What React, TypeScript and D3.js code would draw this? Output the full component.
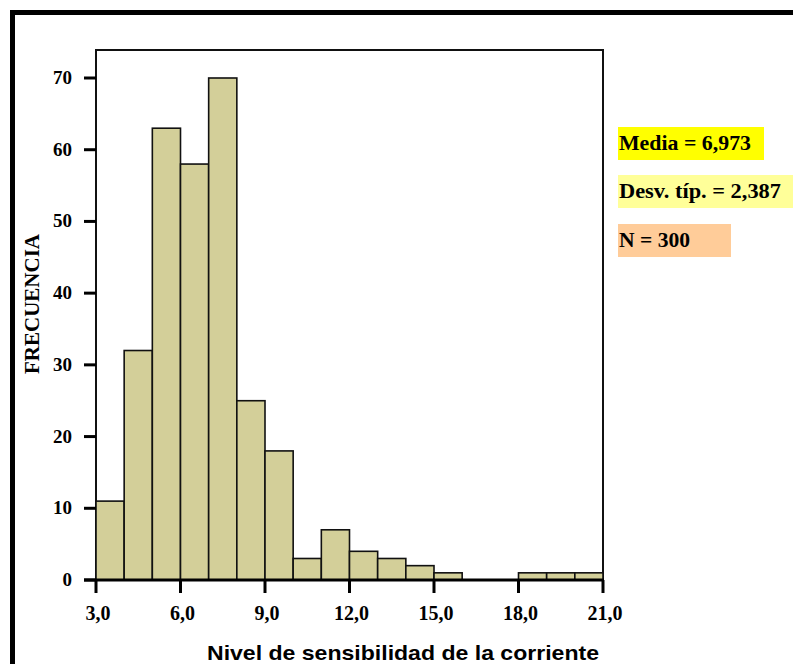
import React from "react";
import * as d3 from "d3";

// histogram bins (lower edge) and counts
const binStarts = [3, 4, 5, 6, 7, 8, 9, 10, 11, 12, 13, 14, 15, 16, 17, 18, 19, 20];
const counts = [11, 32, 63, 58, 70, 25, 18, 3, 7, 4, 3, 2, 1, 0, 0, 1, 1, 1];
const xTicks = [3, 6, 9, 12, 15, 18, 21];
const yTicks = [0, 10, 20, 30, 40, 50, 60, 70];
const statLabels = ["Media = 6,973", "Desv. típ. = 2,387", "N = 300"];
const statColors = ["#ffff00", "#ffff99", "#ffcc99"];

const width = 793;
const height = 664;
const serif = "'Liberation Serif', 'Times New Roman', serif";

export default function App() {
  const x = d3.scaleLinear().domain([3, 21]).range([96, 603]);
  const y = d3.scaleLinear().domain([0, 70]).range([580, 78]);
  const fmt = (v: number) => v.toFixed(1).replace(".", ",");

  const boxes = [
    { y: 127, w: 146, tl: 132 },
    { y: 175, w: 190, tl: 162 },
    { y: 224, w: 113, tl: 71 },
  ];

  return (
    <svg width={width} height={height} style={{ position: "absolute", left: 0, top: 0, background: "#fff" }}>
      {/* outer frame */}
      <rect x={12.5} y={12.5} width={900} height={900} fill="none" stroke="#000" strokeWidth={5} />

      {/* plot frame */}
      <rect x={96} y={50} width={507} height={530} fill="none" stroke="#111" strokeWidth={2} />

      {/* bars */}
      {binStarts.map((b, i) =>
        counts[i] > 0 ? (
          <rect
            key={i}
            x={x(b)}
            y={y(counts[i])}
            width={x(b + 1) - x(b)}
            height={y(0) - y(counts[i])}
            fill="#d3cf99"
            stroke="#111"
            strokeWidth={1.6}
          />
        ) : null
      )}

      {/* baseline */}
      <line x1={84} x2={604} y1={y(0)} y2={y(0)} stroke="#000" strokeWidth={3} />

      {/* y axis ticks */}
      {yTicks.map((t) => (
        <g key={t}>
          <line x1={84} x2={96} y1={y(t)} y2={y(t)} stroke="#000" strokeWidth={3} />
          <text
            x={72}
            y={y(t) + 6}
            textAnchor="end"
            fontFamily={serif}
            fontWeight="bold"
            fontSize={19}
          >
            {t}
          </text>
        </g>
      ))}

      {/* x axis ticks */}
      {xTicks.map((t) => (
        <g key={t}>
          <line x1={x(t)} x2={x(t)} y1={580} y2={593} stroke="#000" strokeWidth={3} />
          <text
            x={x(t) + 2}
            y={620}
            textAnchor="middle"
            fontFamily={serif}
            fontWeight="bold"
            fontSize={20}
          >
            {fmt(t)}
          </text>
        </g>
      ))}

      {/* axis titles */}
      <text
        transform="translate(39,304) rotate(-90)"
        textAnchor="middle"
        fontFamily={serif}
        fontWeight="bold"
        fontSize={21}
      >
        FRECUENCIA
      </text>
      <text
        x={207}
        y={660}
        fontFamily="'Liberation Sans', Arial, sans-serif"
        fontWeight="bold"
        fontSize={21}
        textLength={392}
        lengthAdjust="spacingAndGlyphs"
      >
        Nivel de sensibilidad de la corriente
      </text>

      {/* stats legend */}
      {statLabels.map((s, i) => (
        <g key={s}>
          <rect x={618} y={boxes[i].y} width={boxes[i].w} height={33} fill={statColors[i]} />
          <text
            x={619}
            y={boxes[i].y + 23}
            fontFamily={serif}
            fontWeight="bold"
            fontSize={21}
            textLength={boxes[i].tl}
            lengthAdjust="spacingAndGlyphs"
          >
            {s}
          </text>
        </g>
      ))}
    </svg>
  );
}
